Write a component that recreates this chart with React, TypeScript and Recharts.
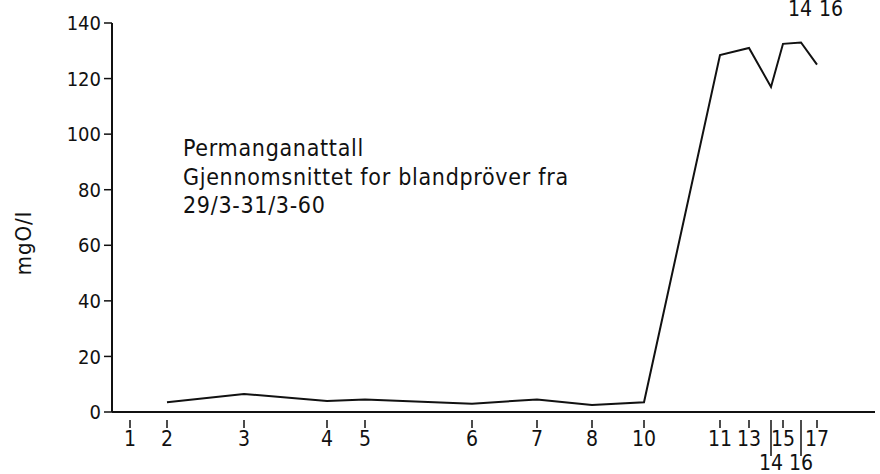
import { LineChart, Line, XAxis, YAxis } from 'recharts';

// stasjoner langs elva (relativ avstand) og permanganattall, mgO/l
const stationLabels = ['1', '2', '3', '4', '5', '6', '7', '8', '10', '11', '13', '14', '15', '16', '17'];
const stationDistance = [18, 55, 132, 215, 253, 360, 425, 480, 532, 608, 637, 659, 671, 689, 705];
const permanganat = [null, 3.5, 6.5, 4, 4.5, 3, 4.5, 2.5, 3.5, 128.5, 131, 117, 132.5, 133, 125];
const yTicks = [0, 20, 40, 60, 80, 100, 120, 140];
const lowLabels = ['14', '16'];
const topLabels = ['14', '16'];
const noteLines = ['Permanganattall', 'Gjennomsnittet for blandpröver fra', '29/3-31/3-60'];

const ink = '#111';
const font = '"DejaVu Sans Condensed", "DejaVu Sans", sans-serif';

const chartData = stationDistance.map((d, i) => ({
  pos: d,
  label: stationLabels[i],
  value: permanganat[i],
}));

const StationTick = ({ x, y, payload }: any) => {
  const idx = stationDistance.indexOf(payload.value);
  const label = stationLabels[idx];
  const low = lowLabels.includes(label);
  return (
    <g>
      <line x1={x} y1={y} x2={x} y2={low ? y + 36 : y + 8} stroke={ink} strokeWidth={1.5} />
      <text
        x={x}
        y={low ? y + 50 : y + 26}
        textAnchor="middle"
        fontSize={21}
        fontFamily={font}
        fill={ink}
      >
        {label}
      </text>
    </g>
  );
};

export default function App() {
  return (
    <div style={{ position: 'absolute', left: 0, top: 0, width: 880, height: 474, background: '#fff', overflow: 'hidden' }}>
      <LineChart width={880} height={474} data={chartData} margin={{ top: 23, right: 5, left: 0, bottom: 0 }}>
        <XAxis
          dataKey="pos"
          type="number"
          domain={[0, 763]}
          ticks={stationDistance}
          interval={0}
          height={62}
          tickLine={false}
          tick={<StationTick />}
          axisLine={{ stroke: ink, strokeWidth: 2 }}
        />
        <YAxis
          type="number"
          domain={[0, 140]}
          ticks={yTicks}
          width={112}
          tickSize={8}
          tickMargin={3}
          tick={{ fontSize: 20, fill: ink, fontFamily: font }}
          tickLine={{ stroke: ink, strokeWidth: 1.5 }}
          axisLine={{ stroke: ink, strokeWidth: 2 }}
        />
        <Line
          type="linear"
          dataKey="value"
          stroke={ink}
          strokeWidth={2}
          dot={false}
          isAnimationActive={false}
        />
      </LineChart>
      <div
        style={{
          position: 'absolute',
          left: 23,
          top: 243,
          transform: 'translate(-50%, -50%) rotate(-90deg)',
          fontFamily: font,
          fontSize: 22,
          letterSpacing: 1,
          color: ink,
          whiteSpace: 'nowrap',
        }}
      >
        mgO/l
      </div>
      <div
        style={{
          position: 'absolute',
          left: 183,
          top: 134,
          fontFamily: font,
          fontSize: 23,
          letterSpacing: 0.7,
          lineHeight: '28.5px',
          color: ink,
          whiteSpace: 'nowrap',
        }}
      >
        {noteLines.map((t) => (
          <div key={t}>{t}</div>
        ))}
      </div>
      {topLabels.map((t, i) => (
        <div
          key={'top' + i}
          style={{
            position: 'absolute',
            left: 800 + i * 31,
            top: 1,
            transform: 'translateX(-50%)',
            fontFamily: font,
            fontSize: 21,
            lineHeight: '16px',
            color: ink,
            whiteSpace: 'nowrap',
          }}
        >
          {t}
        </div>
      ))}
    </div>
  );
}
